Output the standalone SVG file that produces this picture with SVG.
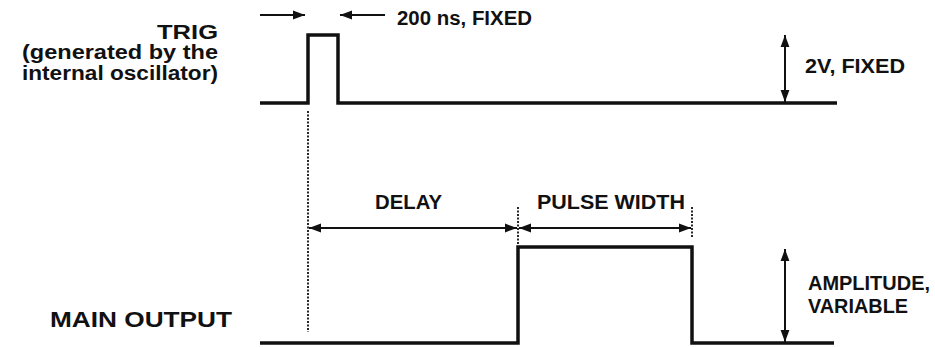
<svg xmlns="http://www.w3.org/2000/svg" width="935" height="347" viewBox="0 0 935 347">
  <defs>
    <marker id="ah" viewBox="0 0 12 10" refX="12" refY="5" markerWidth="12" markerHeight="10" markerUnits="userSpaceOnUse" orient="auto-start-reverse">
      <path d="M0,0.6 L12,5 L0,9.4 Z" fill="#111"/>
    </marker>
    <style>
      .t { font-family: "Liberation Sans", Arial, sans-serif; font-weight: bold; fill: #111; font-size: 20px; }
      .wave { fill: none; stroke: #111; stroke-width: 3.5; stroke-linejoin: miter; stroke-linecap: butt; }
      .dim { fill: none; stroke: #111; stroke-width: 2; }
      .dot { fill: none; stroke: #111; stroke-width: 1.8; stroke-dasharray: 2 1.5; }
    </style>
  </defs>
  <rect width="935" height="347" fill="#fff"/>

  <g id="trig-label">
    <text class="t" x="157" y="39" textLength="61" lengthAdjust="spacingAndGlyphs">TRIG</text>
    <text class="t" x="22" y="59" textLength="196" lengthAdjust="spacingAndGlyphs">(generated by the</text>
    <text class="t" x="22" y="80" textLength="196" lengthAdjust="spacingAndGlyphs">internal oscillator)</text>
  </g>

  <g id="main-label">
    <text class="t" x="50" y="327" style="font-size:22px" textLength="182" lengthAdjust="spacingAndGlyphs">MAIN OUTPUT</text>
  </g>

  <g id="trig-wave">
    <path class="wave" d="M260,103 H308 V35 H338 V103 H837"/>
  </g>

  <g id="main-wave">
    <path class="wave" d="M260,343 H518 V247 H692 V343 H834"/>
  </g>

  <g id="connectors">
    <line class="dim" x1="260" y1="15" x2="305" y2="15" marker-end="url(#ah)"/>
    <line class="dim" x1="385" y1="15" x2="340" y2="15" marker-end="url(#ah)"/>
    <line class="dim" x1="785" y1="35" x2="785" y2="102" marker-start="url(#ah)" marker-end="url(#ah)"/>
    <line class="dot" x1="308" y1="111" x2="308" y2="332"/>
    <line class="dot" x1="518" y1="207" x2="518" y2="245"/>
    <line class="dot" x1="692" y1="207" x2="692" y2="238"/>
    <line class="dim" x1="309" y1="228" x2="517" y2="228" marker-start="url(#ah)" marker-end="url(#ah)"/>
    <line class="dim" x1="519" y1="228" x2="691" y2="228" marker-start="url(#ah)" marker-end="url(#ah)"/>
    <line class="dim" x1="785" y1="249" x2="785" y2="342" marker-start="url(#ah)" marker-end="url(#ah)"/>
  </g>

  <g id="labels">
    <text class="t" x="397" y="25" textLength="135" lengthAdjust="spacingAndGlyphs">200 ns, FIXED</text>
    <text class="t" x="805" y="73" textLength="100" lengthAdjust="spacingAndGlyphs">2V, FIXED</text>
    <text class="t" x="375" y="209" textLength="67" lengthAdjust="spacingAndGlyphs">DELAY</text>
    <text class="t" x="537" y="209" textLength="148" lengthAdjust="spacingAndGlyphs">PULSE WIDTH</text>
    <text class="t" x="808" y="290" textLength="122" lengthAdjust="spacingAndGlyphs">AMPLITUDE,</text>
    <text class="t" x="808" y="313" textLength="100" lengthAdjust="spacingAndGlyphs">VARIABLE</text>
  </g>
</svg>
